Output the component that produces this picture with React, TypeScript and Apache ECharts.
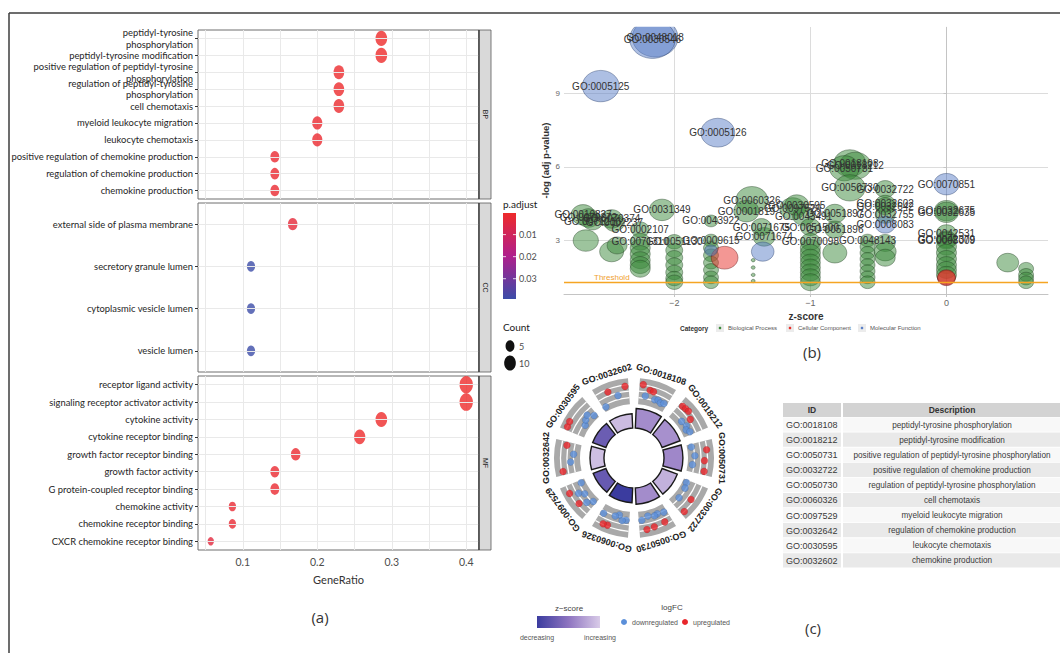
import React, { useEffect, useRef } from "react";
import * as echarts from "echarts";

const NARROW = "Lato,'Liberation Sans',sans-serif";
const SANS = "'Liberation Sans',Arial,Helvetica,sans-serif";
const TITLE = "'Open Sans','Noto Sans',sans-serif";

// ---------------- Panel (a): GO dot plot ----------------
const bpTerms = [
  "peptidyl-tyrosine\nphosphorylation",
  "peptidyl-tyrosine modification",
  "positive regulation of peptidyl-tyrosine\nphosphorylation",
  "regulation of peptidyl-tyrosine\nphosphorylation",
  "cell chemotaxis",
  "myeloid leukocyte migration",
  "leukocyte chemotaxis",
  "positive regulation of chemokine production",
  "regulation of chemokine production",
  "chemokine production",
];
const bpRatio = [0.286, 0.286, 0.229, 0.229, 0.229, 0.2, 0.2, 0.143, 0.143, 0.143];
const bpCount = [10, 10, 8, 8, 8, 7, 7, 5, 5, 5];
const bpPadj = [0.0004, 0.0004, 0.0008, 0.0008, 0.001, 0.0012, 0.0012, 0.0015, 0.0015, 0.0015];

const ccTerms = ["external side of plasma membrane", "secretory granule lumen", "cytoplasmic vesicle lumen", "vesicle lumen"];
const ccRatio = [0.167, 0.111, 0.111, 0.111];
const ccCount = [6, 4, 4, 4];
const ccPadj = [0.003, 0.039, 0.039, 0.039];

const mfTerms = [
  "receptor ligand activity",
  "signaling receptor activator activity",
  "cytokine activity",
  "cytokine receptor binding",
  "growth factor receptor binding",
  "growth factor activity",
  "G protein-coupled receptor binding",
  "chemokine activity",
  "chemokine receptor binding",
  "CXCR chemokine receptor binding",
];
const mfRatio = [0.4, 0.4, 0.286, 0.257, 0.171, 0.143, 0.143, 0.086, 0.086, 0.057];
const mfCount = [14, 14, 10, 9, 6, 5, 5, 3, 3, 2];
const mfPadj = [0.0002, 0.0002, 0.0004, 0.0006, 0.0012, 0.0015, 0.0015, 0.002, 0.002, 0.004];

const facetNames = ["BP", "CC", "MF"];
const geneRatioTicks = [0.1, 0.2, 0.3, 0.4];
const geneRatioGrid = [0.05, 0.1, 0.15, 0.2, 0.25, 0.3, 0.35, 0.4];
const padjTicks = [0.01, 0.02, 0.03];
const countKeys = [5, 10];

// ---------------- Panel (b): GO bubble plot ----------------
const bubBpZ = [-2.67, -2.63, -2.6, -2.65, -2.46, -2.44, -2.46, -2.42, -2.09, -2.25, -2.25, -2.25, -2.25, -2.25, -2.25, -2.25,
  -2.0, -2.0, -2.0, -2.0, -2.0, -2.0, -2.0, -1.73, -1.73, -1.73, -1.73, -1.73, -1.73, -1.73, -1.73,
  -1.42, -1.42, -1.42, -1.42, -1.43, -1.47, -1.34, -1.36, -1.13, -1.1, -1.05,
  -1.0, -1.0, -1.0, -1.0, -1.0, -1.0, -1.0, -1.0, -1.0, -1.0,
  -0.82, -0.82, -0.82, -0.58, -0.58, -0.58, -0.58, -0.58, -0.58, -0.58, -0.58,
  -0.71, -0.67, -0.75, -0.71, -0.45, -0.45, -0.45, -0.45, -0.45, -0.45, -0.45,
  0, 0, 0, 0, 0, 0, 0, 0, 0, 0, 0, 0.45, 0.585, 0.585, 0.585, 0.585];
const bubBpLogP = [4.05, 3.92, 3.78, 3.0, 3.88, 3.72, 2.55, 2.8, 4.25, 3.45, 2.95, 2.7, 2.45, 2.2, 2.0, 1.85,
  2.95, 2.6, 2.3, 2.0, 1.7, 1.45, 1.3, 3.8, 3.0, 2.7, 2.4, 2.1, 1.8, 1.5, 1.3,
  2.2, 1.9, 1.6, 1.35, 4.65, 4.2, 3.15, 3.55, 4.3, 4.45, 4.0,
  3.55, 2.95, 2.7, 2.5, 2.3, 2.1, 1.9, 1.7, 1.5, 1.3,
  4.1, 3.45, 2.5, 3.0, 2.75, 2.5, 2.25, 2.0, 1.75, 1.5, 1.3,
  6.15, 6.05, 5.95, 5.15, 5.1, 4.5, 4.4, 4.05, 2.9, 2.55, 2.3,
  4.22, 4.15, 3.3, 3.05, 3.0, 2.75, 2.5, 2.25, 2.0, 1.8, 1.6, 2.1, 1.85, 1.6, 1.45, 1.3];
const bubBpCount = [36, 30, 25, 40, 30, 25, 36, 25, 40, 20, 25, 25, 25, 25, 25, 25,
  18, 18, 18, 18, 18, 18, 18, 12, 14, 14, 14, 14, 14, 14, 14,
  1, 1, 1, 1, 64, 40, 30, 25, 42, 36, 30,
  25, 25, 25, 25, 25, 25, 25, 25, 25, 25,
  30, 25, 36, 14, 14, 14, 14, 14, 14, 14, 14,
  64, 64, 55, 60, 25, 25, 25, 25, 25, 30, 25,
  36, 36, 25, 25, 25, 25, 25, 25, 25, 25, 25, 30, 14, 14, 14, 14];
const bubBpId = ["GO:0010827", "GO:0070372", "GO:0071216", "", "GO:0070374", "GO:0002237", "", "", "GO:0031349", "GO:0002107", "GO:0071310", "", "", "", "", "",
  "GO:0051130", "", "", "", "", "", "", "GO:0043922", "GO:0009615", "", "", "", "", "", "",
  "", "", "", "", "GO:0060326", "GO:0001819", "GO:0071674", "GO:0071675", "GO:0097529", "GO:0030595", "GO:0043491",
  "GO:0051500", "GO:0070098", "", "", "", "", "", "", "", "",
  "GO:0051897", "GO:0051896", "", "GO:0048143", "", "", "", "", "", "", "",
  "GO:0018108", "GO:0018212", "GO:0050731", "GO:0050730", "GO:0032722", "GO:0032602", "GO:0032642", "GO:0032755", "", "", "",
  "GO:0032675", "GO:0032635", "GO:0042531", "GO:0042379", "GO:0008009", "", "", "", "", "", "", "", "", "", "", ""];

const bubCcZ = [-1.63, 0, 0.0];
const bubCcLogP = [2.3, 1.47, 1.5];
const bubCcCount = [45, 20, 20];
const bubCcId = ["", "", ""];

const bubMfZ = [-2.14, -2.16, -2.54, -1.68, 0, -0.45, -1.35, -1.73];
const bubMfLogP = [11.28, 11.22, 9.3, 7.4, 5.3, 3.65, 2.55, 2.6];
const bubMfCount = [130, 130, 85, 72, 40, 25, 32, 10];
const bubMfId = ["GO:0048018", "GO:0030546", "GO:0005125", "GO:0005126", "GO:0070851", "GO:0008083", "", ""];

const threshold = 1.3;
const zTicks = [-2, -1, 0];
const logPTicks = [3, 6, 9];
const categoryNames = ["Biological Process", "Cellular Component", "Molecular Function"];

// ---------------- Panel (c): GO circle + table ----------------
const circleIds = ["GO:0018108", "GO:0018212", "GO:0050731", "GO:0032722", "GO:0050730", "GO:0060326", "GO:0097529", "GO:0032642", "GO:0030595", "GO:0032602"];
const circleDesc = [
  "peptidyl-tyrosine phosphorylation",
  "peptidyl-tyrosine modification",
  "positive regulation of peptidyl-tyrosine phosphorylation",
  "positive regulation of chemokine production",
  "regulation of peptidyl-tyrosine phosphorylation",
  "cell chemotaxis",
  "myeloid leukocyte migration",
  "regulation of chemokine production",
  "leukocyte chemotaxis",
  "chemokine production",
];
const circleZ = [-0.71, -0.68, -0.74, -0.47, -0.71, -1.43, -1.13, -0.38, -1.1, -0.4];
const circleLogP = [6.15, 6.05, 5.95, 5.1, 5.15, 4.65, 4.3, 4.4, 4.45, 4.5];
const circleGenes = [
  [1.6, -0.9, 0.6, 0.5, -1.2, -1.0, -1.4, -1.1],
  [0.9, 1.0, 1.1, -1.6, 0.3, -1.3, -1.8, -1.2],
  [-2.0, 1.4, -1.4, 0.8, -1.9, 1.0],
  [-2.1, -1.8, 0.8, -1.6, 1.5],
  [-1.2, 0.9, -1.5, -1.3, 1.1, -1.7, 1.3, -1.0],
  [-1.0, -0.8, -1.9, -1.4, 1.2, 1.3, -0.9],
  [-1.7, -0.5, 1.0, -1.4, -0.3, 1.5, -2.0],
  [1.2, -0.8, -1.5, 0.3],
  [1.5, 1.6, -1.9, -1.3, -0.8, -2.0],
  [-2.0, 0.9, -0.6, 1.2],
];
const ringLines = [-1.5, 0, 1.5];

// ---------------- helpers ----------------
function hexToRgb(h: string) {
  const n = parseInt(h.slice(1), 16);
  return [(n >> 16) & 255, (n >> 8) & 255, n & 255];
}
function lerpColor(stops: string[], t: number) {
  const tt = Math.max(0, Math.min(1, t)) * (stops.length - 1);
  const i = Math.min(stops.length - 2, Math.floor(tt));
  const f = tt - i;
  const a = hexToRgb(stops[i]);
  const b = hexToRgb(stops[i + 1]);
  const c = a.map((v, k) => Math.round(v + (b[k] - v) * f));
  return `rgb(${c[0]},${c[1]},${c[2]})`;
}
const PADJ_STOPS = ["#ee2a2a", "#b01f8c", "#3b4ca8"];
const PADJ_MIN = 0.0002;
const PADJ_MAX = 0.0392;
const padjColor = (p: number) => lerpColor(PADJ_STOPS, (p - PADJ_MIN) / (PADJ_MAX - PADJ_MIN));
const Z_STOPS = ["#3b3c9f", "#8e74c0", "#d9cbe8"];
const Z_MIN = -1.43;
const Z_MAX = -0.3;
const zColor = (z: number) => lerpColor(Z_STOPS, (z - Z_MIN) / (Z_MAX - Z_MIN));
const sizeA = (c: number) => 2.2 + 3.0 * Math.sqrt(c);
const sizeB = (c: number) => 4 * Math.sqrt(c);

function txt(text: string, x: number, y: number, o: any = {}) {
  const align = o.align || "left";
  const valign = o.verticalAlign || "middle";
  const { rotation, z, ...rest } = o;
  const el: any = {
    type: "text",
    x,
    y,
    silent: true,
    z: z ?? 10,
    style: {
      text,
      fill: "#333",
      fontSize: 10,
      fontFamily: SANS,
      ...rest,
      align,
      verticalAlign: valign,
      textAlign: align,
      textVerticalAlign: valign,
    },
  };
  if (rotation !== undefined) el.rotation = rotation;
  return el;
}

function buildOption() {
  const aSets = [
    { terms: bpTerms, ratio: bpRatio, count: bpCount, padj: bpPadj },
    { terms: ccTerms, ratio: ccRatio, count: ccCount, padj: ccPadj },
    { terms: mfTerms, ratio: mfRatio, count: mfCount, padj: mfPadj },
  ];
  const allR = [...bpRatio, ...ccRatio, ...mfRatio];
  const rMin = Math.min(...allR);
  const rMax = Math.max(...allR);
  const rPad = (rMax - rMin) * 0.05;
  const A_LEFT = 198;
  const A_W = 281;
  const aBoxes = [
    { top: 30, height: 169 },
    { top: 203, height: 169 },
    { top: 376, height: 174 },
  ];

  const grid: any[] = aBoxes.map((b) => ({
    left: A_LEFT, top: b.top, width: A_W, height: b.height, show: true,
    backgroundColor: "#fff", borderColor: "#6e6e6e", borderWidth: 1, outerBoundsMode: "none", containLabel: false,
  }));
  grid.push({ left: 564, top: 27, width: 484, height: 267, outerBoundsMode: "none", containLabel: false });

  const xAxis: any[] = aBoxes.map((b, g) => ({
    type: "value", gridIndex: g, min: rMin - rPad, max: rMax + rPad,
    axisLine: { show: false },
    axisTick: { show: false, customValues: geneRatioGrid },
    axisLabel: { show: g === 2, customValues: geneRatioTicks, color: "#4d4d4d", fontSize: 10.5, fontFamily: NARROW, margin: 6 },
    splitLine: { show: true, lineStyle: { color: "#e9e9e9", width: 1 } },
    name: g === 2 ? "GeneRatio" : "", nameLocation: "middle", nameGap: 24,
    nameTextStyle: { color: "#333", fontSize: 11, fontFamily: NARROW },
  }));
  xAxis.push({
    type: "value", gridIndex: 3, min: -2.81, max: 0.746,
    axisLine: { show: true, lineStyle: { color: "#c4c4c4" } },
    axisTick: { show: true, length: 3, lineStyle: { color: "#c4c4c4" }, customValues: zTicks },
    axisLabel: { customValues: zTicks, color: "#666", fontSize: 9, margin: 4, formatter: (v: number) => (v < 0 ? "\u2212" + Math.abs(v) : String(v)) },
    splitLine: { show: true, lineStyle: { color: "#dcdcdc", width: 1 } },
    name: "z-score", nameLocation: "middle", nameGap: 17,
    nameTextStyle: { color: "#333", fontSize: 10, fontWeight: "bold", fontFamily: SANS },
  });

  const yAxis: any[] = aSets.map((s, g) => ({
    type: "category", gridIndex: g, data: s.terms, inverse: true,
    axisLine: { show: false },
    axisTick: { show: true, alignWithLabel: true, length: 3, lineStyle: { color: "#333" } },
    axisLabel: { interval: 0, color: "#262626", fontSize: 9.4, fontFamily: NARROW, margin: 5, lineHeight: 11.5 },
    splitLine: { show: false },
  }));
  yAxis.push({
    type: "value", gridIndex: 3, min: 0.82, max: 11.71,
    axisLine: { show: true, lineStyle: { color: "#c4c4c4" } },
    axisTick: { show: true, length: 3, lineStyle: { color: "#c4c4c4" }, customValues: logPTicks },
    axisLabel: { customValues: logPTicks, color: "#666", fontSize: 8, margin: 4 },
    splitLine: { show: true, lineStyle: { color: "#dcdcdc", width: 1 } },
    name: "-log (adj p-value)", nameLocation: "middle", nameGap: 14, nameRotate: 90,
    nameTextStyle: { color: "#333", fontSize: 9.5, fontWeight: "bold", fontFamily: SANS },
  });

  const series: any[] = [];
  aSets.forEach((s, g) => {
    series.push({
      type: "scatter", xAxisIndex: g, yAxisIndex: g, data: [], z: 1, silent: true,
      markLine: {
        silent: true, symbol: ["none", "none"], label: { show: false },
        lineStyle: { color: "#e9e9e9", width: 1, type: "solid" },
        data: s.terms.map((t) => ({ yAxis: t })),
      },
    });
    series.push({
      type: "scatter", xAxisIndex: g, yAxisIndex: g, z: 3, symbol: "circle", silent: true,
      data: s.ratio.map((r, i) => ({
        value: [r, s.terms[i]],
        symbolSize: [sizeA(s.count[i]), sizeA(s.count[i]) * 1.3],
        itemStyle: { color: padjColor(s.padj[i]) },
      })),
    });
  });

  const bubble = (zs: number[], lps: number[], cnts: number[], ids: string[], color: string, border: string, extra: any = {}) => ({
    type: "scatter", xAxisIndex: 3, yAxisIndex: 3, z: 2, symbol: "circle", silent: true,
    data: zs.map((v, i) => ({ name: ids[i], value: [v, lps[i]], symbolSize: [sizeB(cnts[i]), sizeB(cnts[i]) * 0.85] })),
    itemStyle: { color, opacity: 0.5, borderColor: border, borderWidth: 0.8 },
    label: { show: true, position: "inside", formatter: (p: any) => p.name, color: "#333", opacity: 1, fontSize: 10, fontFamily: SANS },
    ...extra,
  });
  series.push(bubble(bubBpZ, bubBpLogP, bubBpCount, bubBpId, "#3b8a3b", "#1e3d1e", {
    markLine: {
      silent: true, symbol: ["none", "none"], data: [{ yAxis: threshold }],
      lineStyle: { color: "#f5a523", width: 1.4, type: "solid", opacity: 1 },
      label: { show: true, formatter: "Threshold", position: "insideStartTop", distance: [30, 1], color: "#f0a030", fontSize: 8, opacity: 1 },
    },
  }));
  series.push(bubble(bubCcZ, bubCcLogP, bubCcCount, bubCcId, "#e8302a", "#5a1010"));
  series.push(bubble(bubMfZ, bubMfLogP, bubMfCount, bubMfId, "#5b80c8", "#233a66"));

  // panel (c)
  const CX = 634;
  const CY = 458;
  series.push({
    type: "bar", coordinateSystem: "polar", polarIndex: 0, barCategoryGap: "14%", z: 2, silent: true,
    data: circleLogP.map((v, i) => ({ value: v, itemStyle: { color: zColor(circleZ[i]) } })),
    itemStyle: { borderColor: "#1a1a1a", borderWidth: 1.4 },
  });
  series.push({
    type: "custom", coordinateSystem: "polar", polarIndex: 1, z: 1, silent: true,
    data: circleIds.map((_, i) => [0, i + 0.5]),
    renderItem: (params: any, api: any) => {
      const i = params.dataIndex;
      const cs = params.coordSys;
      const cx = cs.cx;
      const cy = cs.cy;
      const angAt = (a: number) => {
        const p = api.coord([0, a]);
        return Math.atan2(p[1] - cy, p[0] - cx);
      };
      const radAt = (v: number) => {
        const p = api.coord([v, i + 0.5]);
        return Math.hypot(p[0] - cx, p[1] - cy);
      };
      const s = angAt(i + 0.12);
      let e = angAt(i + 0.88);
      if (e < s) e += Math.PI * 2;
      const children: any[] = [
        { type: "sector", shape: { cx, cy, r0: radAt(-3), r: radAt(3), startAngle: s, endAngle: e, clockwise: true }, style: { fill: "#a9a9a9" } },
      ];
      ringLines.forEach((v) => {
        children.push({ type: "arc", shape: { cx, cy, r: radAt(v), startAngle: s, endAngle: e, clockwise: true }, style: { stroke: "#fff", lineWidth: 1.3, fill: null } });
      });
      const lp = api.coord([4.85, i + 0.5]);
      const phi = Math.atan2(lp[1] - cy, lp[0] - cx);
      children.push({
        type: "text", x: lp[0], y: lp[1], rotation: -(phi + Math.PI / 2),
        style: { text: circleIds[i], align: "center", verticalAlign: "middle", textAlign: "center", textVerticalAlign: "middle", fontSize: 9, fontWeight: "bold", fill: "#222", fontFamily: SANS },
      });
      return { type: "group", children };
    },
  });
  const geneData: any[] = [];
  circleGenes.forEach((list, i) => {
    list.forEach((fc, j) => {
      const n = list.length;
      geneData.push({ value: [fc, i + 0.2 + 0.6 * (n > 1 ? j / (n - 1) : 0.5)], itemStyle: { color: fc > 0 ? "#e8262b" : "#5b8fd9" } });
    });
  });
  series.push({
    type: "scatter", coordinateSystem: "polar", polarIndex: 1, z: 3, silent: true, symbolSize: 7,
    itemStyle: { borderColor: "rgba(0,0,0,0.25)", borderWidth: 0.5 },
    data: geneData,
  });

  const hidden = { axisLine: { show: false }, axisTick: { show: false }, axisLabel: { show: false }, splitLine: { show: false }, splitArea: { show: false } };

  // graphic elements
  const graphic: any[] = [];
  // mask above bubble panel (ggplot clips to panel)
  graphic.push({ type: "rect", silent: true, zlevel: 1, z: 40, shape: { x: 540, y: 14.5, width: 520, height: 12.3 }, style: { fill: "#fff" } });
  // outer frame
  graphic.push({ type: "line", silent: true, zlevel: 1, z: 50, shape: { x1: 9, y1: 13, x2: 1060, y2: 13 }, style: { stroke: "#3c3c3c", lineWidth: 1.5 } });
  graphic.push({ type: "line", silent: true, zlevel: 1, z: 50, shape: { x1: 9, y1: 13, x2: 9, y2: 653 }, style: { stroke: "#3c3c3c", lineWidth: 1.5 } });
  // facet strips
  aBoxes.forEach((b, g) => {
    graphic.push({ type: "rect", silent: true, z: 10, shape: { x: A_LEFT + A_W, y: b.top, width: 12, height: b.height }, style: { fill: "#d9d9d9", stroke: "#5a5a5a", lineWidth: 0.8 } });
    graphic.push({ type: "line", silent: true, z: 11, shape: { x1: A_LEFT + A_W, y1: b.top, x2: A_LEFT + A_W, y2: b.top + b.height }, style: { stroke: "#333", lineWidth: 1.2 } });
    graphic.push(txt(facetNames[g], A_LEFT + A_W + 6, b.top + b.height / 2, { align: "center", fontSize: 7, fill: "#1a1a1a", rotation: -Math.PI / 2, z: 12 }));
  });
  // p.adjust legend
  const CB_X = 503;
  const CB_Y = 213;
  const CB_H = 86;
  graphic.push(txt("p.adjust", CB_X, 204, { fontSize: 10, fontFamily: NARROW, fill: "#1a1a1a" }));
  graphic.push({
    type: "rect", silent: true, z: 10, shape: { x: CB_X, y: CB_Y, width: 13, height: CB_H },
    style: { fill: new echarts.graphic.LinearGradient(0, 0, 0, 1, PADJ_STOPS.map((c, k) => ({ offset: k / (PADJ_STOPS.length - 1), color: c }))) },
  });
  padjTicks.forEach((v) => {
    const y = CB_Y + CB_H * (v - PADJ_MIN) / (PADJ_MAX - PADJ_MIN);
    graphic.push({ type: "line", silent: true, z: 11, shape: { x1: CB_X, y1: y, x2: CB_X + 3, y2: y }, style: { stroke: "#fff", lineWidth: 0.8 } });
    graphic.push({ type: "line", silent: true, z: 11, shape: { x1: CB_X + 10, y1: y, x2: CB_X + 13, y2: y }, style: { stroke: "#fff", lineWidth: 0.8 } });
    graphic.push(txt(String(v), CB_X + 16, y, { fontSize: 9, fontFamily: NARROW, fill: "#4d4d4d" }));
  });
  graphic.push(txt("Count", CB_X, 327, { fontSize: 10, fontFamily: NARROW, fill: "#1a1a1a" }));
  countKeys.forEach((c, k) => {
    const cy = 346 + k * 17;
    graphic.push({ type: "ellipse", silent: true, z: 10, shape: { cx: CB_X + 7, cy, rx: sizeA(c) / 2, ry: (sizeA(c) * 1.3) / 2 }, style: { fill: "#111" } });
    graphic.push(txt(String(c), CB_X + 16, cy, { fontSize: 9, fontFamily: NARROW, fill: "#4d4d4d" }));
  });
  // bubble legend
  graphic.push(txt("Category", 680, 328, { fontSize: 6.5, fontWeight: "bold", fill: "#333" }));
  const keyX = [716, 786, 858];
  const keyColors = ["#3b8a3b", "#e8302a", "#5b80c8"];
  categoryNames.forEach((nm, k) => {
    graphic.push({ type: "rect", silent: true, z: 10, shape: { x: keyX[k], y: 324, width: 8, height: 8 }, style: { fill: "#ececec" } });
    graphic.push({ type: "circle", silent: true, z: 11, shape: { cx: keyX[k] + 4, cy: 328, r: 1.3 }, style: { fill: keyColors[k] } });
    graphic.push(txt(nm, keyX[k] + 12, 328, { fontSize: 6, fill: "#555" }));
  });
  // circle legend
  graphic.push(txt("z\u2212score", 569, 608, { align: "center", fontSize: 8, fill: "#444" }));
  graphic.push({
    type: "rect", silent: true, z: 10, shape: { x: 537, y: 616, width: 63, height: 12 },
    style: { fill: new echarts.graphic.LinearGradient(0, 0, 1, 0, Z_STOPS.map((c, k) => ({ offset: k / (Z_STOPS.length - 1), color: c }))) },
  });
  graphic.push(txt("decreasing", 537, 637, { align: "center", fontSize: 7, fill: "#555" }));
  graphic.push(txt("increasing", 600, 637, { align: "center", fontSize: 7, fill: "#555" }));
  graphic.push(txt("logFC", 672, 607, { align: "center", fontSize: 8, fill: "#444" }));
  graphic.push({ type: "circle", silent: true, z: 10, shape: { cx: 624, cy: 622, r: 3 }, style: { fill: "#5b8fd9" } });
  graphic.push(txt("downregulated", 632, 622, { fontSize: 7, fill: "#555" }));
  graphic.push({ type: "circle", silent: true, z: 10, shape: { cx: 685, cy: 622, r: 3 }, style: { fill: "#e8262b" } });
  graphic.push(txt("upregulated", 693, 622, { fontSize: 7, fill: "#555" }));
  // table
  const T_ID_X = 783;
  const T_ID_W = 58;
  const T_D_X = 843;
  const T_D_W = 220;
  const T_HEAD_Y = 403;
  const T_HEAD_H = 14;
  const T_ROW_Y = 417.5;
  const T_ROW_H = 15.08;
  graphic.push({ type: "rect", silent: true, z: 10, shape: { x: T_ID_X, y: T_HEAD_Y, width: T_ID_W, height: T_HEAD_H }, style: { fill: "#d3d3d3" } });
  graphic.push({ type: "rect", silent: true, z: 10, shape: { x: T_D_X, y: T_HEAD_Y, width: T_D_W, height: T_HEAD_H }, style: { fill: "#d3d3d3" } });
  graphic.push(txt("ID", T_ID_X + T_ID_W / 2, T_HEAD_Y + T_HEAD_H / 2, { align: "center", fontSize: 8.5, fontWeight: "bold", fill: "#333" }));
  graphic.push(txt("Description", 952, T_HEAD_Y + T_HEAD_H / 2, { align: "center", fontSize: 8.5, fontWeight: "bold", fill: "#333" }));
  circleIds.forEach((id, k) => {
    const y = T_ROW_Y + k * T_ROW_H;
    const fill = k % 2 === 1 ? "#e9e9e9" : "#f8f8f8";
    graphic.push({ type: "rect", silent: true, z: 10, shape: { x: T_ID_X, y, width: T_ID_W, height: T_ROW_H - 0.8 }, style: { fill } });
    graphic.push({ type: "rect", silent: true, z: 10, shape: { x: T_D_X, y, width: T_D_W, height: T_ROW_H - 0.8 }, style: { fill } });
    graphic.push(txt(id, T_ID_X + 3, y + T_ROW_H / 2, { fontSize: 9, fill: "#3a3a3a" }));
    graphic.push(txt(circleDesc[k], 952, y + T_ROW_H / 2, { align: "center", fontSize: 8.2, fill: "#3a3a3a" }));
  });
  // panel tags
  graphic.push(txt("(a)", 320, 617, { align: "center", fontSize: 15, fontFamily: TITLE, fill: "#333" }));
  graphic.push(txt("(b)", 812, 352, { align: "center", fontSize: 15, fontFamily: TITLE, fill: "#333" }));
  graphic.push(txt("(c)", 813, 628, { align: "center", fontSize: 15, fontFamily: TITLE, fill: "#333" }));

  return {
    animation: false,
    backgroundColor: "#ffffff",
    textStyle: { fontFamily: SANS },
    grid,
    xAxis,
    yAxis,
    polar: [
      { center: [CX, CY], radius: [30, 50] },
      { center: [CX, CY], radius: [54, 80] },
    ],
    angleAxis: [
      { polarIndex: 0, type: "category", data: circleIds, startAngle: 90, clockwise: true, ...hidden },
      { polarIndex: 1, type: "value", min: 0, max: 10, startAngle: 90, clockwise: true, ...hidden },
    ],
    radiusAxis: [
      { polarIndex: 0, type: "value", min: 0, max: 6.3, ...hidden },
      { polarIndex: 1, type: "value", min: -3, max: 3, ...hidden },
    ],
    series,
    graphic: { elements: graphic },
  };
}

export default function App() {
  const ref = useRef<HTMLDivElement>(null);
  useEffect(() => {
    if (!ref.current) return;
    const chart = echarts.init(ref.current, undefined, { renderer: "svg" });
    chart.setOption(buildOption() as any);
    return () => chart.dispose();
  }, []);
  return <div ref={ref} style={{ position: "fixed", left: 0, top: 0, width: 1060, height: 653, background: "#fff" }} />;
}
